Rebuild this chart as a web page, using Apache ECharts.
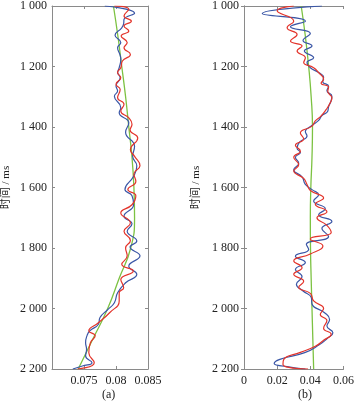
<!DOCTYPE html>
<html>
<head>
<meta charset="utf-8">
<script src="https://cdn.jsdelivr.net/npm/echarts@6/dist/echarts.min.js"></script>
<style>
html,body{margin:0;padding:0;background:#fff;}
#chart{width:357px;height:403px;}
</style>
</head>
<body>
<div id="chart"></div>
<script>
// ---------- DATA ----------
const yTickLabels = ['1 000','1 200','1 400','1 600','1 800','2 000','2 200'];
const xTickLabelsA = ['', '0.075', '0.08', '0.085'];
const xTickLabelsB = ['0', '0.02', '0.04', '0.06'];
const panelNames = ['(a)', '(b)'];
const yName = '时间 / ms';

// panel (a): [time ms, value]
const blueA = [[1000,0.07825],[1024,0.0829],[1044,0.08125],[1058,0.0812],[1072,0.0809],[1097,0.07985],[1121,0.08075],[1138,0.08025],[1160,0.0806],[1176,0.08075],[1204,0.0805],[1220,0.08025],[1237,0.08065],[1264,0.0800],[1281,0.08025],[1298,0.07975],[1336,0.08075],[1353,0.0805],[1386,0.0820],[1417,0.0815],[1464,0.0829],[1497,0.0826],[1528,0.08325],[1563,0.08275],[1607,0.0814],[1627,0.0825],[1657,0.08275],[1695,0.08125],[1720,0.0825],[1745,0.08175],[1777,0.08325],[1797,0.0822],[1826,0.08375],[1860,0.0820],[1887,0.08325],[1915,0.0815],[1948,0.08025],[1981,0.07975],[2003,0.07875],[2030,0.0775],[2052,0.07725],[2074,0.0759],[2088,0.0755],[2113,0.07525],[2135,0.0754],[2157,0.07525],[2179,0.07625],[2190,0.07475],[2200,0.07325]];
const redA = [[1000,0.07975],[1011,0.0820],[1033,0.08125],[1050,0.0824],[1066,0.08125],[1083,0.0820],[1099,0.0808],[1121,0.08175],[1138,0.08125],[1160,0.08225],[1182,0.0810],[1204,0.08075],[1220,0.08025],[1237,0.08075],[1259,0.0800],[1276,0.08065],[1303,0.08025],[1325,0.08125],[1347,0.08075],[1370,0.0820],[1391,0.0825],[1410,0.0822],[1436,0.0834],[1475,0.08225],[1497,0.0829],[1528,0.08375],[1555,0.0828],[1580,0.0831],[1607,0.08185],[1627,0.0831],[1657,0.0825],[1684,0.08075],[1717,0.08225],[1745,0.08125],[1775,0.08225],[1800,0.0815],[1826,0.08175],[1854,0.0809],[1876,0.0827],[1904,0.08075],[1931,0.0812],[1948,0.0805],[1975,0.0805],[2014,0.0790],[2047,0.07725],[2074,0.07575],[2090,0.07675],[2113,0.0760],[2146,0.07575],[2179,0.0766],[2200,0.0740]];
const greenA = [[1000,0.0796],[1100,0.0803],[1200,0.0809],[1300,0.0815],[1400,0.0820],[1500,0.0825],[1600,0.0828],[1700,0.0829],[1800,0.0823],[1900,0.0805],[2000,0.0787],[2100,0.0764],[2200,0.0741]];

// panel (b)
const blueB = [[1000,0.047],[1025,0.011],[1050,0.037],[1069,0.028],[1091,0.040],[1114,0.0356],[1132,0.041],[1149,0.0364],[1171,0.042],[1187,0.038],[1204,0.040],[1220,0.045],[1235,0.048],[1250,0.0475],[1265,0.051],[1280,0.050],[1298,0.053],[1314,0.0525],[1333,0.051],[1348,0.0505],[1362,0.047],[1378,0.045],[1395,0.041],[1415,0.037],[1430,0.038],[1450,0.0335],[1470,0.032],[1484,0.034],[1500,0.031],[1520,0.033],[1541,0.030],[1565,0.035],[1590,0.037],[1607,0.041],[1624,0.045],[1645,0.042],[1670,0.049],[1690,0.045],[1712,0.053],[1735,0.047],[1762,0.051],[1788,0.0376],[1805,0.039],[1827,0.031],[1848,0.037],[1871,0.031],[1895,0.035],[1920,0.0316],[1942,0.0356],[1964,0.0406],[1985,0.041],[2014,0.0486],[2036,0.0516],[2058,0.050],[2080,0.0536],[2100,0.050],[2119,0.0456],[2146,0.0366],[2168,0.0216],[2182,0.0182],[2192,0.026],[2200,0.037]];
const redB = [[1000,0.030],[1016,0.020],[1050,0.030],[1072,0.026],[1094,0.032],[1116,0.028],[1132,0.035],[1149,0.032],[1171,0.037],[1187,0.036],[1204,0.042],[1220,0.045],[1242,0.048],[1255,0.0465],[1268,0.051],[1283,0.0505],[1303,0.053],[1320,0.052],[1342,0.0496],[1364,0.0464],[1380,0.043],[1397,0.041],[1420,0.034],[1440,0.036],[1460,0.031],[1480,0.034],[1500,0.030],[1525,0.033],[1545,0.030],[1570,0.036],[1590,0.038],[1610,0.040],[1635,0.048],[1655,0.043],[1680,0.050],[1700,0.044],[1725,0.050],[1749,0.0526],[1770,0.040],[1793,0.0476],[1820,0.040],[1843,0.030],[1865,0.035],[1887,0.030],[1910,0.036],[1930,0.033],[1950,0.040],[1975,0.042],[2000,0.048],[2020,0.046],[2040,0.050],[2065,0.048],[2085,0.0526],[2105,0.048],[2125,0.043],[2145,0.034],[2168,0.024],[2185,0.0235],[2200,0.0386]];
const greenB = [[1000,0.0345],[1100,0.0370],[1200,0.0390],[1300,0.0405],[1400,0.0413],[1500,0.0410],[1600,0.0403],[1700,0.0400],[1800,0.0401],[1900,0.0405],[2000,0.0410],[2100,0.0415],[2200,0.0420]];

// ---------- CHART ----------
const FONT = "'Liberation Serif','Noto Sans CJK SC',serif";
const AX = '#8a8a8a';
const TXT = '#222';
const swap = arr => arr.map(p => [p[1], p[0]]);

function yAxes(gi, nameGap) {
  return [
    { gridIndex: gi, type: 'value', inverse: true, min: 1000, max: 2200, interval: 200,
      name: yName, nameLocation: 'middle', nameGap: nameGap,
      nameTextStyle: { fontFamily: FONT, fontSize: 11, color: TXT },
      axisLine: { show: true, lineStyle: { color: AX, width: 1 } },
      axisTick: { show: true, inside: true, length: 3, lineStyle: { color: AX } },
      axisLabel: { fontFamily: FONT, fontSize: 12, color: TXT, margin: 5,
        formatter: v => yTickLabels[Math.round((v - 1000) / 200)] },
      splitLine: { show: false } },
    { gridIndex: gi, type: 'value', inverse: true, min: 1000, max: 2200, interval: 200, position: 'right',
      axisLine: { show: true, lineStyle: { color: AX, width: 1 } },
      axisTick: { show: true, inside: true, length: 3, lineStyle: { color: AX } },
      axisLabel: { show: false }, splitLine: { show: false } }
  ];
}
function xAxes(gi, min, max, interval, labels) {
  return [
    { gridIndex: gi, type: 'value', min: min, max: max, interval: interval, position: 'bottom',
      axisLine: { show: true, onZero: false, lineStyle: { color: AX, width: 1 } },
      axisTick: { show: true, inside: true, length: 3, lineStyle: { color: AX } },
      axisLabel: { fontFamily: FONT, fontSize: 12, color: TXT, margin: 6, showMinLabel: true, showMaxLabel: true,
        formatter: v => labels[Math.round((v - min) / interval)] },
      splitLine: { show: false } },
    { gridIndex: gi, type: 'value', min: min, max: max, interval: interval, position: 'top',
      axisLine: { show: true, onZero: false, lineStyle: { color: AX, width: 1 } },
      axisTick: { show: true, inside: true, length: 3, lineStyle: { color: AX } },
      axisLabel: { show: false }, splitLine: { show: false } }
  ];
}
function line(data, color, xi, yi, w) {
  return { type: 'line', xAxisIndex: xi, yAxisIndex: yi, data: swap(data),
    showSymbol: false, smooth: 0.5, silent: true, animation: false,
    lineStyle: { color: color, width: w } };
}

const chart = echarts.init(document.getElementById('chart'), null, { renderer: 'canvas' });
chart.setOption({
  animation: false,
  backgroundColor: '#fff',
  grid: [
    { left: 48, top: 5, width: 100, height: 364 },
    { left: 244, top: 5, width: 100, height: 364 }
  ],
  xAxis: [].concat(xAxes(0, 0.07, 0.085, 0.005, xTickLabelsA), xAxes(1, 0, 0.06, 0.02, xTickLabelsB)),
  yAxis: [].concat(yAxes(0, 40), yAxes(1, 42)),
  series: [
    line(greenA, '#7cc242', 0, 0, 1.3),
    line(blueA, '#3a56a6', 0, 0, 1.2),
    line(redA, '#e3342b', 0, 0, 1.2),
    line(greenB, '#7cc242', 2, 2, 1.3),
    line(blueB, '#3a56a6', 2, 2, 1.2),
    line(redB, '#e3342b', 2, 2, 1.2)
  ],
  graphic: [
    { type: 'text', left: 102, top: 389, style: { text: panelNames[0], font: "12px 'Liberation Serif'", fill: TXT } },
    { type: 'text', left: 298, top: 389, style: { text: panelNames[1], font: "12px 'Liberation Serif'", fill: TXT } }
  ]
});
</script>
</body>
</html>
